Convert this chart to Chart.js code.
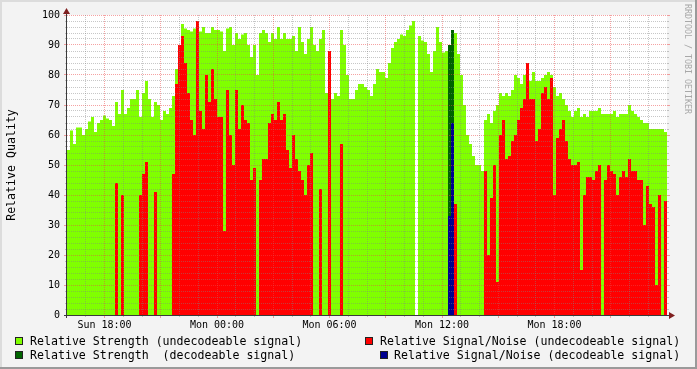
<!DOCTYPE html>
<html>
<head>
<meta charset="utf-8">
<script src="https://cdn.jsdelivr.net/npm/chart.js@4/dist/chart.umd.min.js"></script>
<style>
html,body{margin:0;padding:0;background:#f3f3f3;}
#wrap{position:relative;width:697px;height:369px;overflow:hidden;background:#f3f3f3;font-family:"DejaVu Sans Mono",monospace;}
#c{position:absolute;left:0;top:0;width:697px;height:369px;}
.leg{position:absolute;font-size:11.6px;line-height:14px;white-space:pre;color:#000;}
.sw{position:absolute;width:6px;height:6px;border:1px solid #222;}
#wm{position:absolute;left:683px;top:4px;writing-mode:vertical-rl;font-size:8.3px;line-height:10px;color:#a8a8a8;white-space:pre;}
.fr{position:absolute;}
</style>
</head>
<body>
<div id="wrap">
<canvas id="c" width="697" height="369"></canvas>
<div class="fr" style="left:0;top:0;width:697px;height:2px;background:#dcdcdc"></div>
<div class="fr" style="left:0;top:0;width:2px;height:369px;background:#dcdcdc"></div>
<div class="fr" style="left:695px;top:0;width:2px;height:369px;background:#9a9a9a"></div>
<div class="fr" style="left:0;top:367px;width:697px;height:2px;background:#9a9a9a"></div>
<div id="wm">RRDTOOL / TOBI OETIKER</div>
<div class="sw" style="left:15px;top:337px;background:#80ff00"></div>
<div class="leg" style="left:30px;top:334px">Relative Strength (undecodeable signal)</div>
<div class="sw" style="left:365px;top:337px;background:#ff0000"></div>
<div class="leg" style="left:380px;top:334px">Relative Signal/Noise (undecodeable signal)</div>
<div class="sw" style="left:15px;top:351px;background:#006400"></div>
<div class="leg" style="left:30px;top:348px">Relative Strength  (decodeable signal)</div>
<div class="sw" style="left:380px;top:351px;background:#000090"></div>
<div class="leg" style="left:394px;top:348px">Relative Signal/Noise (decodeable signal)</div>
</div>
<script>
// ---- data (one sample every 9.6 minutes, starting Sun 16:00) ----
const sampleMinutes = 9.6;
const startClockHour = 16;
const spanHours = 32;
const tickHours = [2, 8, 14, 20, 26];
const tickLabels = ['Sun 18:00', 'Mon 00:00', 'Mon 06:00', 'Mon 12:00', 'Mon 18:00'];

const strengthUndecodeable = [
 55,61.5,57,62.5,62.5,60,62,64.5,66,61,64,65,66.5,65.5,65,63,71,67,75,67,
 69,72,72,75,66,74,78,72,66,71,70,65,68,67,69,73,82,90,97,95.5,
 95,94.5,95.5,95,94.5,96,94,94,96,95,95,94.5,88,95.5,96,90,94,92,93.5,94,
 90,86,90,80,94,95,94,91,94,92,96,92,94,92,92,93,88,96,91,87,
 92,96,90,88,92,95,74,84,72,74,73,95,90,80,72,72,75,77,77,76,
 75,73,77,82,81,81,79,84,89,91,92,93.5,93,95,96.5,98,0,93,91.5,91,
 87,81,88,96,91,87.5,88,88,95,94,87,80,70,60,57,53,50,50,48,65,
 67,64,68,70,74,73,74,73,75,80,79,77,80,80,78,81,78,78,79,80,
 81,80,76,73,74,72,70,68,66,68,69,66,67,66,68,68,68,69,67,67,
 67,67,68,66,67,67,67,70,68,67,66,65,64,64,62,62,62,62,62,61
];
const snUndecodeable = [
 0,0,0,0,0,0,0,0,0,0,0,0,0,0,0,0,44,0,40,0,
 0,0,0,0,40,47,51,0,0,41,0,0,0,0,0,47,77,90,93,84,
 74,65,60,98,68,62,80,71,82,72,66,66,28,75,60,50,75,62,70,65,
 64,45,49,0,45,52,52,64,67,65,71,65,67,55,49,60,52,48,45,40,
 50,54,0,0,42,0,0,88,0,0,0,57,0,0,0,0,0,0,0,0,
 0,0,0,0,0,0,0,0,0,0,0,0,0,0,0,0,0,0,0,0,
 0,0,0,0,0,0,0,0,0,37,0,0,0,0,0,0,0,0,0,48,
 20,39,50,11,60,65,52,53,58,60,65,69,72,84,72,72,58,62,74,76,
 72,79,40,59,62,65,58,52,50,50,51,15,40,46,46,45,48,50,0,45,
 50,48,47,40,46,48,46,52,48,48,45,45,30,43,37,36,10,40,0,38
];
const strengthDecodeable = [
 0,0,0,0,0,0,0,0,0,0,0,0,0,0,0,0,0,0,0,0,
 0,0,0,0,0,0,0,0,0,0,0,0,0,0,0,0,0,0,0,0,
 0,0,0,0,0,0,0,0,0,0,0,0,0,0,0,0,0,0,0,0,
 0,0,0,0,0,0,0,0,0,0,0,0,0,0,0,0,0,0,0,0,
 0,0,0,0,0,0,0,0,0,0,0,0,0,0,0,0,0,0,0,0,
 0,0,0,0,0,0,0,0,0,0,0,0,0,0,0,0,0,0,0,0,
 0,0,0,0,0,0,0,90,95,0,0,0,0,0,0,0,0,0,0,0,
 0,0,0,0,0,0,0,0,0,0,0,0,0,0,0,0,0,0,0,0,
 0,0,0,0,0,0,0,0,0,0,0,0,0,0,0,0,0,0,0,0,
 0,0,0,0,0,0,0,0,0,0,0,0,0,0,0,0,0,0,0,0
];
const snDecodeable = [
 0,0,0,0,0,0,0,0,0,0,0,0,0,0,0,0,0,0,0,0,
 0,0,0,0,0,0,0,0,0,0,0,0,0,0,0,0,0,0,0,0,
 0,0,0,0,0,0,0,0,0,0,0,0,0,0,0,0,0,0,0,0,
 0,0,0,0,0,0,0,0,0,0,0,0,0,0,0,0,0,0,0,0,
 0,0,0,0,0,0,0,0,0,0,0,0,0,0,0,0,0,0,0,0,
 0,0,0,0,0,0,0,0,0,0,0,0,0,0,0,0,0,0,0,0,
 0,0,0,0,0,0,0,33,64,0,0,0,0,0,0,0,0,0,0,0,
 0,0,0,0,0,0,0,0,0,0,0,0,0,0,0,0,0,0,0,0,
 0,0,0,0,0,0,0,0,0,0,0,0,0,0,0,0,0,0,0,0,
 0,0,0,0,0,0,0,0,0,0,0,0,0,0,0,0,0,0,0,0
];

// ---- build chart ----
function toPoints(arr) {
  const pts = arr.map((v, i) => ({x: i * sampleMinutes / 60, y: v}));
  pts.push({x: arr.length * sampleMinutes / 60, y: arr[arr.length - 1]});
  return pts;
}
const FONT = 'DejaVu Sans Mono';
const common = {borderWidth: 0, pointRadius: 0, pointHoverRadius: 0, stepped: true, tension: 0, fill: 'origin'};

const rrdDecor = {
  id: 'rrdDecor',
  beforeDraw(chart) {
    const {ctx, chartArea: a} = chart;
    ctx.save();
    ctx.fillStyle = '#ffffff';
    ctx.fillRect(a.left, a.top, a.right - a.left, a.bottom - a.top);
    ctx.restore();
  },
  afterDatasetsDraw(chart) {
    const {ctx, chartArea: a, scales: {x, y}} = chart;
    const minorC = 'rgba(130,130,130,0.45)';
    const majorC = 'rgba(235,70,70,0.5)';
    ctx.save();
    ctx.lineWidth = 1;
    for (let v = 2; v <= 100; v += 2) {
      const py = Math.floor(y.getPixelForValue(v)) + 0.5;
      const major = v % 10 === 0;
      ctx.strokeStyle = major ? majorC : minorC;
      ctx.setLineDash([1, 1]);
      ctx.beginPath(); ctx.moveTo(a.left, py); ctx.lineTo(a.right, py); ctx.stroke();
      ctx.setLineDash([]);
      ctx.beginPath();
      ctx.moveTo(a.left - (major ? 3 : 2), py); ctx.lineTo(a.left, py);
      ctx.moveTo(a.right, py); ctx.lineTo(a.right + (major ? 3 : 2), py);
      ctx.stroke();
    }
    for (let h = 1; h < spanHours; h++) {
      const px = Math.floor(x.getPixelForValue(h)) + 0.5;
      const major = (h + startClockHour) % 3 === 0;
      ctx.strokeStyle = major ? majorC : minorC;
      ctx.setLineDash([1, 1]);
      ctx.beginPath(); ctx.moveTo(px, a.top); ctx.lineTo(px, a.bottom); ctx.stroke();
      ctx.setLineDash([]);
      ctx.beginPath(); ctx.moveTo(px, a.bottom); ctx.lineTo(px, a.bottom + (major ? 3 : 2)); ctx.stroke();
    }
    ctx.strokeStyle = '#3a3a3a';
    ctx.beginPath();
    ctx.moveTo(a.left - 3, a.bottom + 0.5); ctx.lineTo(a.right + 3, a.bottom + 0.5);
    ctx.moveTo(a.left - 0.5, a.bottom + 3); ctx.lineTo(a.left - 0.5, a.top - 2);
    ctx.stroke();
    ctx.fillStyle = '#7f1f1f';
    ctx.beginPath();
    ctx.moveTo(a.right + 2, a.bottom - 3); ctx.lineTo(a.right + 8, a.bottom + 0.5); ctx.lineTo(a.right + 2, a.bottom + 4);
    ctx.closePath(); ctx.fill();
    ctx.beginPath();
    ctx.moveTo(a.left - 4, a.top - 1); ctx.lineTo(a.left - 0.5, a.top - 7); ctx.lineTo(a.left + 3, a.top - 1);
    ctx.closePath(); ctx.fill();
    ctx.restore();
  }
};

new Chart(document.getElementById('c'), {
  type: 'line',
  data: {
    datasets: [
      Object.assign({label: 'Relative Strength (undecodeable signal)', data: toPoints(strengthUndecodeable), backgroundColor: '#80ff00', order: 4}, common),
      Object.assign({label: 'Relative Signal/Noise (undecodeable signal)', data: toPoints(snUndecodeable), backgroundColor: '#ff0000', order: 3}, common),
      Object.assign({label: 'Relative Strength  (decodeable signal)', data: toPoints(strengthDecodeable), backgroundColor: '#006400', order: 2}, common),
      Object.assign({label: 'Relative Signal/Noise (decodeable signal)', data: toPoints(snDecodeable), backgroundColor: '#000090', order: 1}, common)
    ]
  },
  options: {
    responsive: false,
    devicePixelRatio: 1,
    animation: false,
    events: [],
    layout: {padding: {left: 0, right: 30, top: 15, bottom: 0}},
    plugins: {legend: {display: false}, tooltip: {enabled: false}},
    scales: {
      x: {
        type: 'linear', min: 0, max: spanHours, position: 'bottom',
        afterBuildTicks: s => { s.ticks = tickHours.map(v => ({value: v})); },
        afterFit: s => { s.height = 54; },
        ticks: {autoSkip: false, maxRotation: 0, padding: 4, color: '#000', font: {family: FONT, size: 10},
                callback: (v, i) => tickLabels[i]},
        grid: {display: false, drawTicks: false},
        border: {display: false}
      },
      y: {
        min: 0, max: 100,
        afterFit: s => { s.width = 67; },
        ticks: {stepSize: 10, padding: 7, color: '#000', font: {family: FONT, size: 10}},
        grid: {display: false, drawTicks: false},
        border: {display: false},
        title: {display: true, text: 'Relative Quality', color: '#000', font: {family: FONT, size: 11.6}, padding: {top: 5, bottom: 0}}
      }
    }
  },
  plugins: [rrdDecor]
});
</script>
</body>
</html>
